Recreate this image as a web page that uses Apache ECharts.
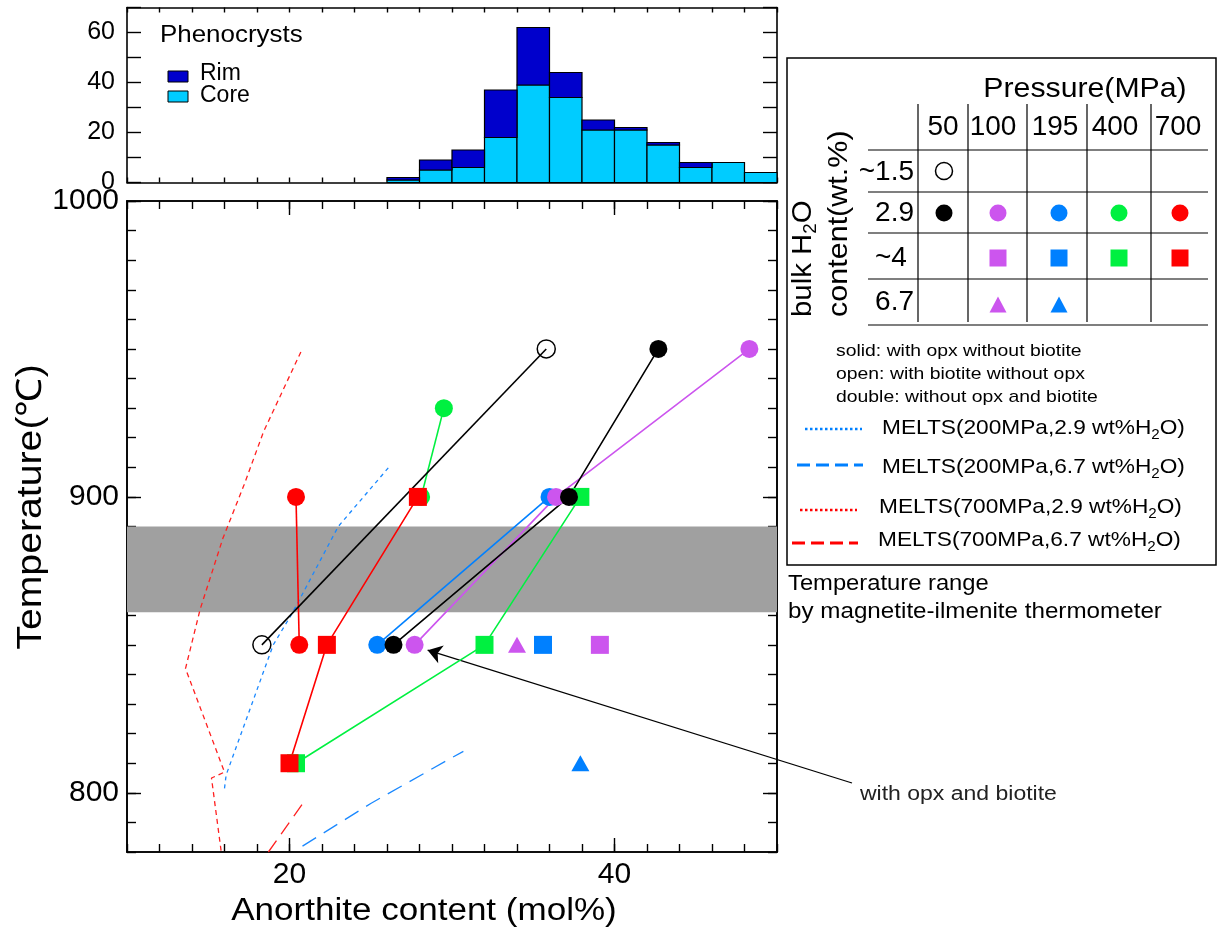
<!DOCTYPE html>
<html>
<head>
<meta charset="utf-8">
<title>Anorthite content vs temperature</title>
<script src="https://cdn.jsdelivr.net/npm/echarts@6.0.0/dist/echarts.min.js"></script>
<style>
html, body { margin: 0; padding: 0; background: #fff; }
#chart { width: 1219px; height: 944px; }
</style>
</head>
<body>
<div id="chart"></div>
<script>
const FONT = '"Liberation Sans", Arial, Helvetica, sans-serif';

// ---- phenocryst histogram, 2 mol% bins (counts)
const binStart = [26, 28, 30, 32, 34, 36, 38, 40, 42, 44, 46, 48];
const coreCount = [1, 5, 6, 18, 39, 34, 21, 21, 15, 6, 8, 4];
const rimCount = [1, 4, 7, 19, 23, 10, 4, 1, 1, 2, 0, 0];
const binWidth = 2;
const histLabels = [0, 20, 40, 60];

// ---- run products  [An mol%, T degC]   name = pressure / bulk H2O
const p50w15 = [[18.3, 850], [35.8, 950]];
const p50w29 = [[26.4, 850], [37.2, 900], [42.7, 950]];
const p100w29 = [[27.7, 850], [36.4, 900], [48.3, 950]];
const p195w29 = [[25.4, 850], [36.0, 900]];
const p400w29 = [[28.1, 900], [29.5, 930]];
const p700w29 = [[20.6, 850], [20.4, 900]];
const p100w4 = [[39.1, 850]];
const p195w4 = [[35.6, 850]];
const p400w4 = [[20.4, 810], [32.0, 850], [37.9, 900]];
const p700w4 = [[20.0, 810], [22.3, 850], [27.9, 900]];
const p100w67 = [[34.0, 850]];
const p195w67 = [[37.9, 810]];

// ---- MELTS curves
const melts200w29 = [[16.0, 801.5], [16.1, 806], [19.0, 850], [20.2, 861], [23.0, 890], [26.2, 910.6]];
const melts200w67 = [[20.8, 782], [25.0, 796.4], [29.9, 811.6], [30.7, 814]];
const melts700w29 = [[20.7, 949], [18.4, 922], [17.2, 904], [15.9, 886], [14.5, 862], [13.6, 842], [16.0, 807], [15.2, 805], [15.8, 780]];
const melts700w67 = [[18.7, 780], [21.0, 797.8]];

// magnetite-ilmenite temperature range
const tempRange = [861, 890];
const arrowTip = [28.5, 848.2];

const xRange = [10, 50];
const yRange = [780, 1000];
const histRange = [0, 70];
const xMajor = [20, 40];
const yMajor = [800, 900, 1000];

const pressures = ['50', '100', '195', '400', '700'];
const waterRows = ['~1.5', '2.9', '~4', '6.7'];

const col = { black: '#000000', purple: '#cc55ee', blue: '#0080ff', green: '#00f040', red: '#ff0000' };

function axis(gridIndex, position, range, tick, label) {
    return {
        type: 'value', gridIndex: gridIndex, position: position,
        min: range[0], max: range[1], interval: tick.interval,
        axisLine: { show: true, onZero: false, lineStyle: { color: '#000', width: 1.6 } },
        axisTick: { show: true, inside: true, length: tick.length, customValues: tick.values, lineStyle: { color: '#000', width: 1.4 } },
        axisLabel: label ? Object.assign({ color: '#000', fontFamily: FONT, formatter: v => String(v) }, label) : { show: false },
        splitLine: { show: false },
        minorTick: { show: false }
    };
}

function run(data, color, symbol, extra) {
    return Object.assign({
        type: 'line', xAxisIndex: 2, yAxisIndex: 2, data: data,
        symbol: symbol, symbolSize: 18, showSymbol: true,
        lineStyle: { color: color, width: 1.6 },
        itemStyle: { color: color },
        emphasis: { disabled: true }, silent: true, z: 5
    }, extra || {});
}

function melts(data, color, dash) {
    return {
        type: 'line', xAxisIndex: 2, yAxisIndex: 2, data: data,
        symbol: 'none', lineStyle: { color: color, width: 1.3, type: dash },
        emphasis: { disabled: true }, silent: true, z: 3
    };
}

function histBar(bottom, height, color) {
    return {
        type: 'custom', xAxisIndex: 0, yAxisIndex: 0,
        data: binStart.map((s, i) => [s, s + binWidth, bottom[i], bottom[i] + height[i]]),
        encode: { x: [0, 1], y: [2, 3] },
        renderItem: function (params, api) {
            if (api.value(3) <= api.value(2)) return null;
            const a = api.coord([api.value(0), api.value(3)]);
            const b = api.coord([api.value(1), api.value(2)]);
            return { type: 'rect', shape: { x: a[0], y: a[1], width: b[0] - a[0], height: b[1] - a[1] },
                     style: { fill: color, stroke: '#000', lineWidth: 1.2 } };
        },
        silent: true, z: 2
    };
}

function txt(x, y, text, size, o) {
    o = o || {};
    return {
        type: 'text', x: x, y: y, rotation: o.rotation || 0, scaleX: o.scaleX || 1, silent: true, z: 100,
        style: { text: text, fontSize: size, fontFamily: FONT, fill: o.color || '#000',
                 align: o.align || 'left', verticalAlign: 'middle', lineHeight: o.lineHeight, rich: o.rich }
    };
}
function seg(x1, y1, x2, y2, stroke, w, dash) {
    return { type: 'line', silent: true, z: 100, shape: { x1: x1, y1: y1, x2: x2, y2: y2 },
             style: { stroke: stroke || '#000', lineWidth: w || 1.2, lineDash: dash } };
}
function dot(cx, cy, color, open) {
    return { type: 'circle', silent: true, z: 100, shape: { cx: cx, cy: cy, r: 8.5 },
             style: open ? { fill: 'none', stroke: '#000', lineWidth: 1.5 } : { fill: color } };
}
function sq(cx, cy, color) {
    return { type: 'rect', silent: true, z: 100, shape: { x: cx - 8.5, y: cy - 8.5, width: 17, height: 17 }, style: { fill: color } };
}
function tri(cx, cy, color) {
    return { type: 'polygon', silent: true, z: 100, shape: { points: [[cx, cy - 8.5], [cx + 8.5, cy + 7.5], [cx - 8.5, cy + 7.5]] }, style: { fill: color } };
}

const subRich = { sub: { fontSize: 14, lineHeight: 14, verticalAlign: 'bottom' } };

// legend table layout
const colX = [944, 998, 1059, 1119, 1180];
const headX = [943, 993, 1055, 1115, 1178];
const rowY = [171, 213, 258, 305];

const graphics = [
    // histogram legend
    txt(160, 35, 'Phenocrysts', 24, { scaleX: 1.08 }),
    { type: 'rect', silent: true, z: 100, shape: { x: 168, y: 71, width: 20, height: 11 }, style: { fill: '#0000cc', stroke: '#000', lineWidth: 1 } },
    { type: 'rect', silent: true, z: 100, shape: { x: 168, y: 91, width: 20, height: 11 }, style: { fill: '#00ccff', stroke: '#000', lineWidth: 1 } },
    txt(200, 74, 'Rim', 23),
    txt(200, 96, 'Core', 23),

    // axis titles
    txt(424, 911, 'Anorthite content (mol%)', 31, { align: 'center', scaleX: 1.13 }),
    txt(31, 507, 'Temperature(℃)', 35, { align: 'center', rotation: Math.PI / 2, scaleX: 1.12 }),

    // legend box
    { type: 'rect', silent: true, z: 100, shape: { x: 787, y: 58, width: 429, height: 507 }, style: { fill: 'none', stroke: '#000', lineWidth: 1.5 } },
    txt(1085, 89, 'Pressure(MPa)', 28, { align: 'center', scaleX: 1.08 }),
    txt(803, 317, 'bulk H{sub|2}O', 28, { rotation: Math.PI / 2, scaleX: 1.05, lineHeight: 34, rich: { sub: { fontSize: 18, lineHeight: 18, verticalAlign: 'bottom' } } }),
    txt(839, 317, 'content(wt.%)', 28, { rotation: Math.PI / 2, scaleX: 1.09 }),

    txt(836, 351, 'solid: with opx without biotite', 17, { scaleX: 1.14 }),
    txt(836, 374, 'open: with biotite without opx', 17, { scaleX: 1.14 }),
    txt(836, 397, 'double: without opx and biotite', 17, { scaleX: 1.14 }),

    seg(805, 429, 862, 429, col.blue, 2.5, [2.5, 2.5]),
    txt(882, 428, 'MELTS(200MPa,2.9 wt%H{sub|2}O)', 21, { scaleX: 1.08, lineHeight: 28, rich: subRich }),
    seg(797, 465, 863, 465, col.blue, 3, [13, 6]),
    txt(882, 467, 'MELTS(200MPa,6.7 wt%H{sub|2}O)', 21, { scaleX: 1.08, lineHeight: 28, rich: subRich }),
    seg(800, 510, 857, 510, col.red, 2.5, [2.5, 2.5]),
    txt(879, 507, 'MELTS(700MPa,2.9 wt%H{sub|2}O)', 21, { scaleX: 1.08, lineHeight: 28, rich: subRich }),
    seg(792, 543, 858, 543, col.red, 3, [13, 6]),
    txt(878, 540, 'MELTS(700MPa,6.7 wt%H{sub|2}O)', 21, { scaleX: 1.08, lineHeight: 28, rich: subRich }),

    txt(788, 584, 'Temperature range', 22, { scaleX: 1.08 }),
    txt(788, 612, 'by magnetite-ilmenite thermometer', 22, { scaleX: 1.1 }),

    txt(860, 794, 'with opx and biotite', 20, { scaleX: 1.15, color: '#222' })
];

// table grid lines
[918, 968, 1027, 1087, 1151].forEach(x => graphics.push(seg(x, 104, x, 322)));
[150, 192, 233, 279, 325].forEach(y => graphics.push(seg(868, y, 1208, y)));
pressures.forEach((p, i) => graphics.push(txt(headX[i], 127, p, 28, { align: 'center' })));
waterRows.forEach((w, i) => graphics.push(txt(w === '~4' ? 875 : 914, [172, 213, 258, 302][i], w, 28, { align: w === '~4' ? 'left' : 'right' })));
// table symbols
graphics.push(dot(colX[0], rowY[0], '#000', true));
[col.black, col.purple, col.blue, col.green, col.red].forEach((c, i) => graphics.push(dot(colX[i], rowY[1], c)));
[col.purple, col.blue, col.green, col.red].forEach((c, i) => graphics.push(sq(colX[i + 1], rowY[2], c)));
[col.purple, col.blue].forEach((c, i) => graphics.push(tri(colX[i + 1], rowY[3], c)));

const option = {
    animation: false,
    backgroundColor: '#fff',
    textStyle: { fontFamily: FONT },
    grid: [
        { left: 127, top: 7.5, width: 650, height: 175, outerBoundsMode: 'none', containLabel: false },
        { left: 127, top: 201, width: 650, height: 651, outerBoundsMode: 'none', containLabel: false }
    ],
    xAxis: [
        axis(0, 'bottom', xRange, { interval: 2, length: 5 }),
        axis(0, 'top', xRange, { interval: 2, length: 5 }),
        axis(1, 'bottom', xRange, { interval: 2, length: 8 }),
        axis(1, 'top', xRange, { interval: 2, length: 8 }),
        axis(1, 'bottom', xRange, { values: xMajor, length: 14 }, { customValues: xMajor, fontSize: 30, margin: 8 }),
        axis(1, 'top', xRange, { values: xMajor, length: 14 })
    ],
    yAxis: [
        axis(0, 'left', histRange, { interval: 10, length: 14 }, { customValues: histLabels, fontSize: 25, margin: 12 }),
        axis(0, 'right', histRange, { interval: 10, length: 14 }),
        axis(1, 'left', yRange, { interval: 10, length: 9 }),
        axis(1, 'right', yRange, { interval: 10, length: 9 }),
        axis(1, 'left', yRange, { values: yMajor, length: 14 }, { customValues: yMajor, fontSize: 30, margin: 8 }),
        axis(1, 'right', yRange, { values: yMajor, length: 14 })
    ],
    series: [
        histBar(binStart.map(() => 0), coreCount, '#00ccff'),
        histBar(coreCount, rimCount, '#0000cc'),

        // magnetite-ilmenite temperature band
        {
            type: 'line', xAxisIndex: 2, yAxisIndex: 2, data: [], z: 1, silent: true,
            markArea: { silent: true, itemStyle: { color: '#a0a0a0', opacity: 1 },
                        data: [[{ yAxis: tempRange[1] }, { yAxis: tempRange[0] }]] }
        },

        melts(melts200w29, '#1a88ff', [4, 4]),
        melts(melts200w67, '#1a88ff', [16, 9]),
        melts(melts700w29, '#ff2020', [5, 4]),
        melts(melts700w67, '#ff2020', [14, 8]),

        run(p400w29, col.green, 'circle'),
        run(p400w4, col.green, 'rect'),
        run(p700w29, col.red, 'circle'),
        run(p700w4, col.red, 'rect'),
        run(p195w29, col.blue, 'circle'),
        run(p100w29, col.purple, 'circle'),
        run(p50w29, col.black, 'circle'),
        run(p50w15, col.black, 'circle', { itemStyle: { color: 'rgba(255,255,255,0)', borderColor: '#000', borderWidth: 1.5 } }),
        run(p100w4, col.purple, 'rect'),
        run(p195w4, col.blue, 'rect'),
        run(p100w67, col.purple, 'triangle', { symbolSize: [18, 16] }),
        run(p195w67, col.blue, 'triangle', { symbolSize: [18, 16] }),

        // arrow pointing at the run product with opx and biotite
        {
            type: 'line', xAxisIndex: 2, yAxisIndex: 2, data: [], z: 6, clip: false, silent: true,
            markLine: {
                silent: true, symbol: ['none', 'arrow'], symbolSize: 14,
                label: { show: false },
                lineStyle: { color: '#000', width: 1.3, type: 'solid' },
                data: [[{ x: 852, y: 783 }, { coord: arrowTip }]]
            }
        }
    ],
    graphic: { elements: graphics }
};

const chart = echarts.init(document.getElementById('chart'), null, { renderer: 'canvas' });
chart.setOption(option);
</script>
</body>
</html>
